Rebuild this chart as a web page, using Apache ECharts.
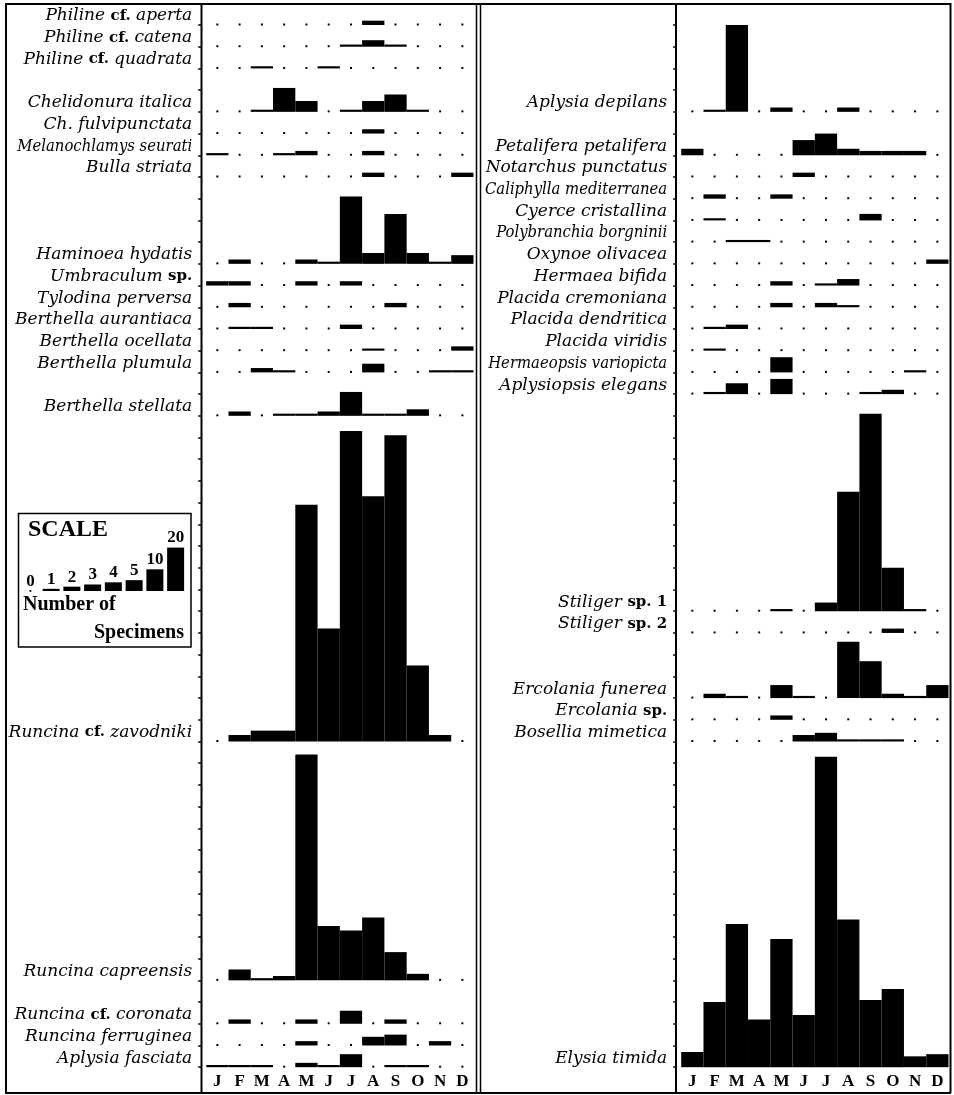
<!DOCTYPE html>
<html>
<head>
<meta charset="utf-8">
<style>
html,body{margin:0;padding:0;background:#fff}
#c{width:954px;height:1095px}
</style>
<script src="https://cdn.jsdelivr.net/npm/echarts/dist/echarts.min.js"></script>
</head>
<body>
<div id="c"></div>
<script>
// ---------------- DATA ----------------
const months = ['J','F','M','A','M','J','J','A','S','O','N','D'];

// Row slots of the left column ('' = empty row)
const leftSlots = [
  'Philine cf. aperta','Philine cf. catena','Philine cf. quadrata','',
  'Chelidonura italica','Ch. fulvipunctata','Melanochlamys seurati','Bulla striata',
  '','','',
  'Haminoea hydatis','Umbraculum sp.','Tylodina perversa','Berthella aurantiaca',
  'Berthella ocellata','Berthella plumula','','Berthella stellata',
  '','','','','','','','','','','','','','',
  'Runcina cf. zavodniki',
  '','','','','','','','','','',
  'Runcina capreensis','','Runcina cf. coronata','Runcina ferruginea','Aplysia fasciata'
];
// Monthly number of specimens (J..D), in the order of the named left slots
const philineAperta      = [0,0,0,0,0,0,0,2,0,0,0,0];
const philineCatena      = [0,0,0,0,0,0,1,3,1,0,0,0];
const philineQuadrata    = [0,0,1,0,0,1,0,0,0,0,0,0];
const chelidonuraItalica = [0,0,1,11,5,0,1,5,8,1,0,0];
const chFulvipunctata    = [0,0,0,0,0,0,0,2,0,0,0,0];
const melanochlamys      = [1,0,0,1,2,0,0,2,0,0,0,0];
const bullaStriata       = [0,0,0,0,0,0,0,2,0,0,0,2];
const haminoeaHydatis    = [0,2,0,0,2,1,31,5,23,5,1,4];
const umbraculum         = [2,2,0,0,2,0,2,0,0,0,0,0];
const tylodinaPerversa   = [0,2,0,0,0,0,0,0,2,0,0,0];
const berthellaAurant    = [0,1,1,0,0,0,2,0,0,0,0,0];
const berthellaOcellata  = [0,0,0,0,0,0,0,1,0,0,0,2];
const berthellaPlumula   = [0,0,2,1,0,0,0,4,0,0,1,1];
const berthellaStellata  = [0,2,0,1,1,2,11,1,1,3,0,0];
const runcinaZavodniki   = [0,3,5,5,109,52,143,113,141,35,3,0];
const runcinaCapreensis  = [0,5,1,2,104,25,23,29,13,3,0,0];
const runcinaCoronata    = [0,2,0,0,2,0,6,0,2,0,0,0];
const runcinaFerruginea  = [0,0,0,0,2,0,0,4,5,0,2,0];
const aplysiaFasciata    = [1,1,1,0,2,1,6,0,1,1,0,0];
const leftCounts = [philineAperta, philineCatena, philineQuadrata, chelidonuraItalica,
  chFulvipunctata, melanochlamys, bullaStriata, haminoeaHydatis, umbraculum,
  tylodinaPerversa, berthellaAurant, berthellaOcellata, berthellaPlumula,
  berthellaStellata, runcinaZavodniki, runcinaCapreensis, runcinaCoronata,
  runcinaFerruginea, aplysiaFasciata];

// Row slots of the right column
const rightSlots = [
  '','','','','Aplysia depilans','','Petalifera petalifera','Notarchus punctatus',
  'Caliphylla mediterranea','Cyerce cristallina','Polybranchia borgninii','Oxynoe olivacea',
  'Hermaea bifida','Placida cremoniana','Placida dendritica','Placida viridis',
  'Hermaeopsis variopicta','Aplysiopsis elegans',
  '','','','','','','','','',
  'Stiliger sp. 1','Stiliger sp. 2','','','Ercolania funerea','Ercolania sp.','Bosellia mimetica',
  '','','','','','','','','','','','','','',
  'Elysia timida'
];
const aplysiaDepilans    = [0,1,40,0,2,0,0,2,0,0,0,0];
const petalifera         = [3,0,0,0,0,7,10,3,2,2,2,0];
const notarchus          = [0,0,0,0,0,2,0,0,0,0,0,0];
const caliphylla         = [0,2,0,0,2,0,0,0,0,0,0,0];
const cyerce             = [0,1,0,0,0,0,0,0,3,0,0,0];
const polybranchia       = [0,0,1,1,0,0,0,0,0,0,0,0];
const oxynoe             = [0,0,0,0,0,0,0,0,0,0,0,2];
const hermaeaBifida      = [0,0,0,0,2,0,1,3,0,0,0,0];
const placidaCremoniana  = [0,0,0,0,2,0,2,1,0,0,0,0];
const placidaDendritica  = [0,1,2,0,0,0,0,0,0,0,0,0];
const placidaViridis     = [0,1,0,0,0,0,0,0,0,0,0,0];
const hermaeopsis        = [0,0,0,0,7,0,0,0,0,0,1,0];
const aplysiopsis        = [0,1,5,0,7,0,0,0,1,2,0,0];
const stiliger1          = [0,0,0,0,1,0,4,55,91,20,1,0];
const stiliger2          = [0,0,0,0,0,0,0,0,0,2,0,0];
const ercolaniaFunerea   = [0,2,1,0,6,1,0,26,17,2,1,6];
const ercolaniaSp        = [0,0,0,0,2,0,0,0,0,0,0,0];
const bosellia           = [0,0,0,0,0,3,4,1,1,1,0,0];
const elysiaTimida       = [7,30,66,22,59,24,143,68,31,36,5,6];
const rightCounts = [aplysiaDepilans, petalifera, notarchus, caliphylla, cyerce,
  polybranchia, oxynoe, hermaeaBifida, placidaCremoniana, placidaDendritica,
  placidaViridis, hermaeopsis, aplysiopsis, stiliger1, stiliger2, ercolaniaFunerea,
  ercolaniaSp, bosellia, elysiaTimida];

// Scale key
const scaleLabels = ['0','1','2','3','4','5','10','20'];
const scaleValues = [0,1,2,3,4,5,10,20];

// ---------------- BUILD ----------------
const ROW = 10; // one row slot equals 10 specimens on the value axis
const smallNames = ['Melanochlamys seurati','Caliphylla mediterranea','Polybranchia borgninii','Hermaeopsis variopicta'];

function buildData(slots, counts) {
  const out = []; let k = 0;
  slots.forEach((name, s) => {
    if (!name) return;
    counts[k++].forEach((v, m) => out.push([m, s * ROW, v]));
  });
  return out;
}
function richName(name) {
  const small = smallNames.indexOf(name) >= 0;
  const w = name.split(' ');
  return w.map((t, i) => {
    const up = /^(cf\.|sp\.|\d+)$/.test(t);
    const st = (up ? 'u' : 'i') + (small ? 's' : '');
    return '{' + st + '|' + t + (i < w.length - 1 ? ' ' : '') + '}';
  }).join('');
}
const FONT = 'Liberation Serif';
const LFONT = 'DejaVu Serif';
const CFONT = 'DejaVu Serif Condensed';
const rich = {
  i:  {fontFamily: LFONT, fontStyle: 'italic', fontSize: 17, lineHeight: 18, color: '#000'},
  u:  {fontFamily: LFONT, fontWeight: 'bold', fontSize: 15, lineHeight: 18, color: '#000'},
  is: {fontFamily: CFONT, fontStyle: 'italic', fontSize: 16.5, lineHeight: 18, color: '#000'},
  us: {fontFamily: CFONT, fontWeight: 'bold', fontSize: 15, lineHeight: 18, color: '#000'}
};

function yAxisFor(gi, slots) {
  return {
    gridIndex: gi, type: 'value', inverse: true, min: -10, max: 480, interval: 10,
    offset: 5,
    axisLine: {show: false},
    splitLine: {show: false},
    axisTick: {show: true, length: 3, lineStyle: {color: '#000', width: 1.5}},
    axisLabel: {
      margin: 9, verticalAlign: 'bottom', fontFamily: LFONT, fontSize: 17, lineHeight: 18, color: '#000',
      rich: rich, hideOverlap: false,
      formatter: function (val) {
        if (val % ROW !== 0) return '';
        const name = slots[Math.round(val / ROW)];
        return name ? richName(name) : '';
      }
    }
  };
}
function xAxisFor(gi) {
  return {
    gridIndex: gi, type: 'category', data: months,
    axisLine: {show: false}, axisTick: {show: false}, splitLine: {show: false},
    axisLabel: {interval: 0, margin: 6, fontFamily: FONT, fontWeight: 'bold', fontSize: 17, color: '#000'}
  };
}
function renderBar(params, api) {
  const v = api.value(2);
  const base = api.coord([api.value(0), api.value(1)]);
  if (v === 0) {
    return {type: 'rect', shape: {x: base[0] - 1, y: base[1] - 1.5, width: 2, height: 2}, style: {fill: '#000'}};
  }
  const top = api.coord([api.value(0), api.value(1) - v]);
  const w = api.size([1, 0])[0];
  return {type: 'rect', shape: {x: base[0] - w / 2, y: top[1], width: w, height: base[1] - top[1]}, style: {fill: '#000'}};
}

const gTop = 3.29, gH = 1063.9;
const black = {stroke: '#000', lineWidth: 2};
function vline(x, w) { return {type: 'line', shape: {x1: x, y1: 3, x2: x, y2: 1093}, style: {stroke: '#000', lineWidth: w}}; }

const option = {
  backgroundColor: '#fff',
  animation: false,
  grid: [
    {left: 206.2, width: 267.3, top: gTop, height: gH, containLabel: false, outerBoundsMode: 'none'},
    {left: 681.2, width: 267.3, top: gTop, height: gH, containLabel: false, outerBoundsMode: 'none'},
    {left: 20, width: 166, top: 547.6, height: 43.4, containLabel: false, outerBoundsMode: 'none'}
  ],
  xAxis: [xAxisFor(0), xAxisFor(1),
    {gridIndex: 2, type: 'category', data: scaleLabels, show: false}],
  yAxis: [yAxisFor(0, leftSlots), yAxisFor(1, rightSlots),
    {gridIndex: 2, type: 'value', min: 0, max: 20, show: false}],
  series: [
    {type: 'custom', xAxisIndex: 0, yAxisIndex: 0, encode: {x: 0, y: 1},
     renderItem: renderBar, data: buildData(leftSlots, leftCounts)},
    {type: 'custom', xAxisIndex: 1, yAxisIndex: 1, encode: {x: 0, y: 1},
     renderItem: renderBar, data: buildData(rightSlots, rightCounts)},
    {type: 'bar', xAxisIndex: 2, yAxisIndex: 2, barWidth: 17, data: scaleValues,
     itemStyle: {color: '#000'},
     label: {show: true, position: 'top', distance: 1, formatter: '{b}',
       fontFamily: FONT, fontWeight: 'bold', fontSize: 17, color: '#000'}},
    {type: 'scatter', xAxisIndex: 2, yAxisIndex: 2, symbol: 'rect', symbolSize: 2,
     itemStyle: {color: '#000'}, data: [[0, 0]]}
  ],
  graphic: [
    {type: 'line', shape: {x1: 5, y1: 4, x2: 951, y2: 4}, style: black},
    {type: 'line', shape: {x1: 5, y1: 1093, x2: 951, y2: 1093}, style: black},
    vline(6, 2), vline(201.5, 2), vline(476.5, 1.5), vline(480.5, 1.5), vline(676, 2), vline(950.5, 2),
    {type: 'rect', shape: {x: 18.5, y: 513.5, width: 172.5, height: 133.5}, style: {fill: 'none', stroke: '#000', lineWidth: 1.5}},
    {type: 'text', left: 28, top: 518, style: {text: 'SCALE', font: 'bold 24px "Liberation Serif"', fill: '#000'}},
    {type: 'text', left: 23, top: 595, style: {text: 'Number of', font: 'bold 20px "Liberation Serif"', fill: '#000'}},
    {type: 'text', right: 954 - 184, top: 623, style: {text: 'Specimens', font: 'bold 20px "Liberation Serif"', fill: '#000'}}
  ]
};
echarts.init(document.getElementById('c')).setOption(option);
</script>
</body>
</html>
